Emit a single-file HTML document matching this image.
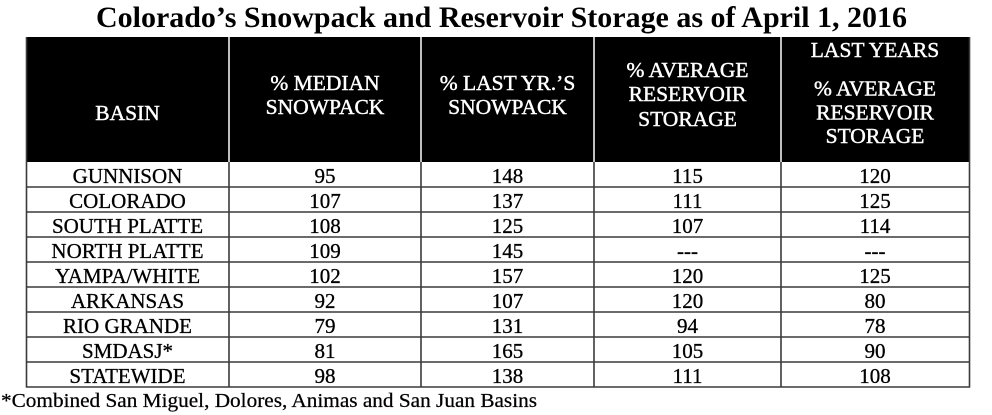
<!DOCTYPE html>
<html>
<head>
<meta charset="utf-8">
<style>
html,body{margin:0;padding:0;background:#fff;}
svg{display:block;}
text{font-family:"Liberation Serif","DejaVu Serif",serif;}
</style>
</head>
<body>
<svg width="992" height="415" viewBox="0 0 992 415" xmlns="http://www.w3.org/2000/svg">
<rect x="0" y="0" width="992" height="415" fill="#fff"/>
<text x="96" y="27" font-size="30" font-weight="bold" fill="#000" textLength="811" lengthAdjust="spacingAndGlyphs">Colorado’s Snowpack and Reservoir Storage as of April 1, 2016</text>

<!-- header -->
<rect x="26" y="37" width="944" height="125" fill="#000"/>
<g stroke="#fff" stroke-width="1.5">
<line x1="229" y1="37" x2="229" y2="162"/>
<line x1="421" y1="37" x2="421" y2="162"/>
<line x1="594" y1="37" x2="594" y2="162"/>
<line x1="781" y1="37" x2="781" y2="162"/>
</g>
<g fill="#fff" stroke="#fff" stroke-width="0.45" font-size="21.5" text-anchor="middle">
<text x="127.5" y="120">BASIN</text>
<text x="325" y="90">% MEDIAN</text>
<text x="325" y="114">SNOWPACK</text>
<text x="507.5" y="90">% LAST YR.’S</text>
<text x="507.5" y="114">SNOWPACK</text>
<text x="687.5" y="77">% AVERAGE</text>
<text x="687.5" y="101">RESERVOIR</text>
<text x="687.5" y="126">STORAGE</text>
<text x="875" y="57">LAST YEARS</text>
<text x="875" y="95.5">% AVERAGE</text>
<text x="875" y="119.5">RESERVOIR</text>
<text x="875" y="143">STORAGE</text>
</g>

<!-- grid -->
<g stroke="#3a3a3a" stroke-width="1.6" fill="none">
<line x1="26.5" y1="37" x2="26.5" y2="387.5"/>
<line x1="969.5" y1="37" x2="969.5" y2="387.5"/>
<line x1="229" y1="162" x2="229" y2="387.5"/>
<line x1="421" y1="162" x2="421" y2="387.5"/>
<line x1="594" y1="162" x2="594" y2="387.5"/>
<line x1="781" y1="162" x2="781" y2="387.5"/>
<line x1="26" y1="187" x2="970" y2="187"/>
<line x1="26" y1="212" x2="970" y2="212"/>
<line x1="26" y1="237" x2="970" y2="237"/>
<line x1="26" y1="262" x2="970" y2="262"/>
<line x1="26" y1="287" x2="970" y2="287"/>
<line x1="26" y1="312" x2="970" y2="312"/>
<line x1="26" y1="337" x2="970" y2="337"/>
<line x1="26" y1="362" x2="970" y2="362"/>
<line x1="26" y1="387" x2="970" y2="387"/>
</g>

<g fill="#000" stroke="#000" stroke-width="0.3" font-size="21" text-anchor="middle">
<text x="127.5" y="183">GUNNISON</text><text x="325" y="183">95</text><text x="507.5" y="183">148</text><text x="687.5" y="183">115</text><text x="875" y="183">120</text>
<text x="127.5" y="208">COLORADO</text><text x="325" y="208">107</text><text x="507.5" y="208">137</text><text x="687.5" y="208">111</text><text x="875" y="208">125</text>
<text x="127.5" y="233">SOUTH PLATTE</text><text x="325" y="233">108</text><text x="507.5" y="233">125</text><text x="687.5" y="233">107</text><text x="875" y="233">114</text>
<text x="127.5" y="258">NORTH PLATTE</text><text x="325" y="258">109</text><text x="507.5" y="258">145</text><text x="687.5" y="258">---</text><text x="875" y="258">---</text>
<text x="127.5" y="283">YAMPA/WHITE</text><text x="325" y="283">102</text><text x="507.5" y="283">157</text><text x="687.5" y="283">120</text><text x="875" y="283">125</text>
<text x="127.5" y="308">ARKANSAS</text><text x="325" y="308">92</text><text x="507.5" y="308">107</text><text x="687.5" y="308">120</text><text x="875" y="308">80</text>
<text x="127.5" y="333">RIO GRANDE</text><text x="325" y="333">79</text><text x="507.5" y="333">131</text><text x="687.5" y="333">94</text><text x="875" y="333">78</text>
<text x="127.5" y="358">SMDASJ*</text><text x="325" y="358">81</text><text x="507.5" y="358">165</text><text x="687.5" y="358">105</text><text x="875" y="358">90</text>
<text x="127.5" y="383">STATEWIDE</text><text x="325" y="383">98</text><text x="507.5" y="383">138</text><text x="687.5" y="383">111</text><text x="875" y="383">108</text>
</g>

<text x="1" y="407" font-size="20.5" fill="#000" stroke="#000" stroke-width="0.25" textLength="536" lengthAdjust="spacingAndGlyphs">*Combined San Miguel, Dolores, Animas and San Juan Basins</text>
</svg>
</body>
</html>
